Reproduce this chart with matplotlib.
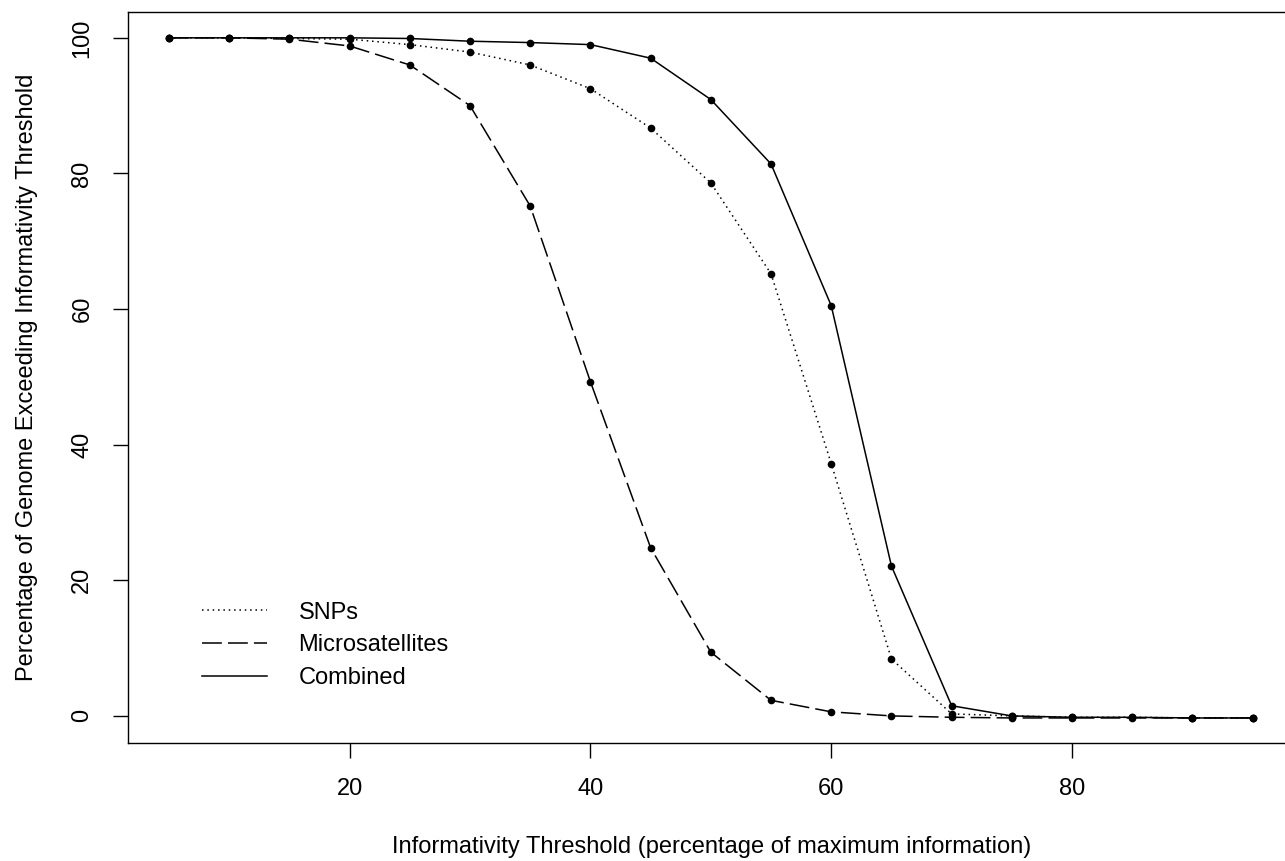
import numpy as np
import matplotlib.pyplot as plt

plt.rcParams['font.family'] = ['Liberation Sans', 'DejaVu Sans']

# Data (percentage of genome exceeding threshold)
thresholds = [5, 10, 15, 20, 25, 30, 35, 40, 45, 50, 55, 60, 65, 70, 75, 80, 85, 90, 95]
snps = [100, 100, 99.9, 99.8, 99.0, 97.9, 96.0, 92.5, 86.7, 78.6, 65.2, 37.2, 8.4, 0.3, 0.0,
        -0.2, -0.2, -0.3, -0.3]
microsatellites = [100, 100, 99.8, 98.8, 96.0, 90.0, 75.2, 49.3, 24.8, 9.4, 2.3, 0.6, 0.0, -0.2,
                   -0.3, -0.3, -0.3, -0.3, -0.3]
combined = [100, 100, 100, 100, 99.9, 99.5, 99.3, 99.0, 97.0, 90.9, 81.4, 60.5, 22.1, 1.5, 0.0,
            -0.2, -0.2, -0.3, -0.3]
series_names = ['SNPs', 'Microsatellites', 'Combined']

fig = plt.figure(figsize=(12.85, 8.61), dpi=100)
ax = fig.add_axes([0.0996, 0.137, 0.909, 0.849])

fs = 17
lw = 1.1
styles = [(0, (1, 2.5)), (0, (13, 4)), '-']

handles = []
for vals, name, ls in zip([snps, microsatellites, combined], series_names, styles):
    h, = ax.plot(thresholds, vals, color='black', lw=lw, linestyle=ls, label=name)
    ax.plot(thresholds, vals, 'o', color='black', markersize=4.5)
    handles.append(h)

ax.set_xlim(1.6, 98.6)
ax.set_ylim(-4, 103.8)
ax.set_xticks([20, 40, 60, 80])
ax.set_yticks([0, 20, 40, 60, 80, 100])
ax.tick_params(axis='both', direction='out', length=11, width=1.0, labelsize=fs, pad=14)
for lab in ax.get_yticklabels():
    lab.set_rotation(90)
    lab.set_va('center')

for sp in ax.spines.values():
    sp.set_linewidth(1.0)
# the right edge of the box falls outside the picture
ax.spines['right'].set_visible(False)

ax.set_xlabel('Informativity Threshold (percentage of maximum information)', fontsize=fs, labelpad=26)
ax.set_ylabel('Percentage of Genome Exceeding Informativity Threshold', fontsize=fs, labelpad=24)

ax.legend(handles, series_names, loc='lower left', bbox_to_anchor=(0.045, 0.045),
          frameon=False, fontsize=fs, handlelength=2.75, handletextpad=1.35,
          labelspacing=0.45)

fig.savefig('out.png', dpi=100)
